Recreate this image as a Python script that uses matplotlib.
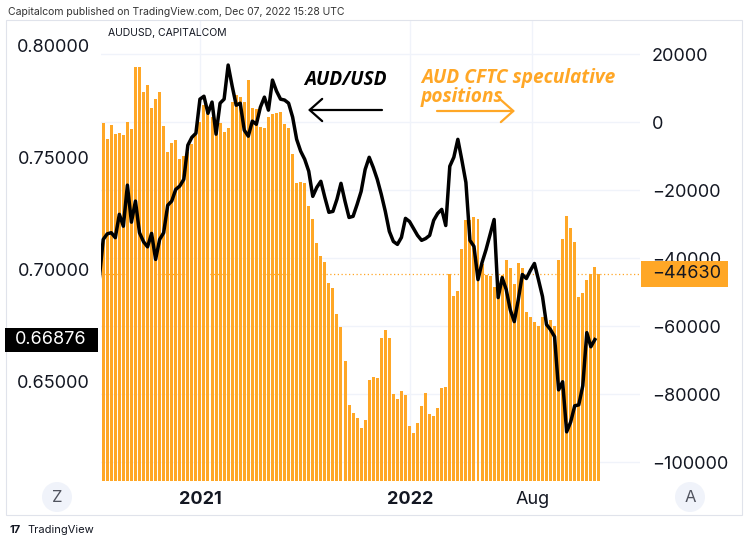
import matplotlib
matplotlib.use('Agg')
import matplotlib.pyplot as plt
import matplotlib.dates as mdates
from matplotlib.patches import Rectangle, Ellipse, FancyArrowPatch
import numpy as np
import pandas as pd

plt.rcParams['font.family'] = ['Inter', 'DejaVu Sans']

# ---------------- data ----------------
cftc_start = '2020-07-17'
cftc_positions = [
    -200, -5000, -1000, -3500, -3200, -3800, -100, -2100, 16200, 16300,
    8900, 10800, 4000, 6800, 8900, -1300, -8700, -6200, -5400, -10900,
    -10000, -8700, -6600, -3800, 100, 5000, 4100, 1600, 100, -400,
    -2900, -1700, 6000, 7900, 7400, 6000, 12400, 4000, 3800, -1400,
    -1700, 1600, 2300, 2600, 3000, -600, -1900, -9400, -17900, -17600,
    -17900, -24700, -28600, -35700, -39300, -41300, -47400, -48800, -56600, -60200,
    -70300, -83200, -85700, -87000, -90100, -87600, -75900, -75100, -75400, -63400,
    -61200, -63400, -80100, -81600, -79000, -80400, -89400, -91500, -88400, -83400,
    -79800, -85800, -86500, -84100, -78200, -77900, -44700, -51200, -49600, -37400,
    -28800, -28800, -27900, -28500, -41900, -45000, -45300, -48600, -47700, -45000,
    -40600, -43000, -47600, -41600, -43000, -55800, -57300, -58700, -59900, -57400,
    -59200, -58200, -60000, -40600, -34500, -27600, -31300, -35400, -51400, -50400,
    -46600, -44700, -42600, -44630,
]

audusd_start = '2020-07-10'
audusd_close = [
    0.6955, 0.7134, 0.7159, 0.7164, 0.7142, 0.7246, 0.7193, 0.7376, 0.7211, 0.7305,
    0.7164, 0.7124, 0.7101, 0.7161, 0.7045, 0.7134, 0.7164, 0.7286, 0.7305, 0.7357,
    0.7372, 0.7402, 0.7554, 0.7589, 0.7607, 0.7759, 0.7772, 0.7696, 0.7746, 0.7603,
    0.7741, 0.7759, 0.7911, 0.7817, 0.7732, 0.7741, 0.7621, 0.7594, 0.7661, 0.7647,
    0.7723, 0.7768, 0.7710, 0.7844, 0.7795, 0.7759, 0.7755, 0.7741, 0.7679, 0.7580,
    0.7527, 0.7491, 0.7438, 0.7326, 0.7366, 0.7393, 0.7321, 0.7255, 0.7259, 0.7313,
    0.7384, 0.7304, 0.7232, 0.7237, 0.7290, 0.7348, 0.7446, 0.7500, 0.7455, 0.7402,
    0.7335, 0.7259, 0.7170, 0.7125, 0.7112, 0.7143, 0.7228, 0.7214, 0.7183, 0.7152,
    0.7130, 0.7138, 0.7152, 0.7219, 0.7250, 0.7268, 0.7196, 0.7460, 0.7500, 0.7580,
    0.7487, 0.7388, 0.7130, 0.7103, 0.6955, 0.7031, 0.7089, 0.7156, 0.7223, 0.6875,
    0.6964, 0.6911, 0.6821, 0.6768, 0.6866, 0.6978, 0.6960, 0.6996, 0.7027, 0.6955,
    0.6880, 0.6755, 0.6732, 0.6701, 0.6464, 0.6500, 0.6277, 0.6321, 0.6393, 0.6397,
    0.6482, 0.6719, 0.6656, 0.6688,
]

left_ticks = [0.65, 0.70, 0.75, 0.80]
left_tick_labels = ['0.65000', '0.70000', '0.75000', '0.80000']
right_ticks = [-100000, -80000, -60000, -40000, -20000, 0, 20000]
right_tick_labels = ['\u2212100000', '\u221280000', '\u221260000', '\u221240000',
                     '\u221220000', '0', '20000']
time_ticks = ['2021-01-01', '2022-01-01', '2022-08-01']
time_tick_labels = ['2021', '2022', 'Aug']
time_tick_bold = [True, True, False]
last_cftc = -44630
last_cftc_label = '\u221244630'
last_audusd_label = '0.66876'

# ---------------- style ----------------
ORANGE = '#FFA726'
TXT = '#131722'
GRID = '#F0F3FA'
W, H = 750, 544


def fx(x):
    return x / W


def fy(y):
    return 1 - y / H


fig = plt.figure(figsize=(W / 100, H / 100), dpi=100)
fig.patch.set_facecolor('white')

ax = fig.add_axes([fx(101), fy(481), fx(640) - fx(101), fy(20) - fy(481)])
ax2 = ax.twinx()

# bars (right scale)
bar_dates = pd.date_range(cftc_start, periods=len(cftc_positions), freq='W-FRI')
ax.set_ylim(-105588, 30000)
base = ax.get_ylim()[0]
ax.bar(bar_dates, np.array(cftc_positions) - base, bottom=base, width=5.2,
       color=ORANGE, linewidth=0, zorder=2)
ax.axhline(last_cftc, color=ORANGE, lw=0.9, ls=(0, (1, 2)), zorder=3)

# line (left scale)
line_dates = pd.date_range(audusd_start, periods=len(audusd_close), freq='W-FRI')
ax2.plot(line_dates, audusd_close, color='black', lw=2.5, solid_joinstyle='round', zorder=5)
ax2.set_ylim(0.60580, 0.81116)

x0 = mdates.date2num(pd.Timestamp(cftc_start))
ax.set_xlim(x0 - 3.85, x0 + 932.4)

# ticks
ax.yaxis.tick_right()
ax.set_yticks(right_ticks)
ax.set_yticklabels(right_tick_labels)
ax.tick_params(axis='y', length=0, pad=8.6, labelsize=13, labelcolor=TXT)

ax2.yaxis.tick_left()
ax2.set_yticks(left_ticks)
ax2.set_yticklabels(left_tick_labels)
ax2.tick_params(axis='y', length=0, pad=8, labelsize=13, labelcolor=TXT)

ax.set_xticks([mdates.date2num(pd.Timestamp(t)) for t in time_ticks])
ax.set_xticklabels(time_tick_labels)
ax.tick_params(axis='x', length=0, pad=7, labelsize=13, labelcolor=TXT)
for lab, b in zip(ax.get_xticklabels(), time_tick_bold):
    lab.set_fontweight('bold' if b else 'normal')

ax.grid(True, color=GRID, lw=1)
ax.set_axisbelow(True)
for a in (ax, ax2):
    for s in a.spines.values():
        s.set_visible(False)
ax2.patch.set_visible(False)

# ---------------- decorations ----------------
fig.add_artist(Rectangle((fx(6), fy(515)), fx(742) - fx(6), fy(20) - fy(515),
                         transform=fig.transFigure, fill=False, ec='#E0E3EB', lw=0.8))

fig.text(fx(8), fy(12), 'Capitalcom published on TradingView.com, Dec 07, 2022 15:28 UTC',
         fontsize=7.5, color='#333333', va='center', ha='left')
fig.text(fx(108), fy(33), 'AUDUSD, CAPITALCOM', fontsize=7.5, color=TXT, va='center', ha='left')

# last value labels
fig.add_artist(Rectangle((fx(5), fy(352)), fx(98) - fx(5), fy(328) - fy(352),
                         transform=fig.transFigure, fc='black', ec='none', zorder=6))
fig.text(fx(51), fy(340), last_audusd_label, color='white', fontsize=13,
         ha='center', va='center', zorder=7)
fig.add_artist(Rectangle((fx(641), fy(287)), fx(728) - fx(641), fy(261) - fy(287),
                         transform=fig.transFigure, fc=ORANGE, ec='none', zorder=6))
fig.text(fx(652), fy(274), last_cftc_label, color=TXT, fontsize=13,
         ha='left', va='center', zorder=7)

# annotations
afont = dict(family=['Open Sans', 'DejaVu Sans'], fontweight='bold', fontstyle='italic', fontsize=13.8)
fig.text(fx(304), fy(80), 'AUD/USD', color='black', ha='left', va='center', **afont)
fig.text(fx(421), fy(78), 'AUD CFTC speculative', color=ORANGE, ha='left', va='center', **afont)
fig.text(fx(421), fy(97), 'positions', color=ORANGE, ha='left', va='center', **afont)
fig.add_artist(FancyArrowPatch((fx(382), fy(110)), (fx(308), fy(110)), transform=fig.transFigure,
                               arrowstyle='->,head_length=0.9,head_width=0.8', mutation_scale=10,
                               color='black', lw=1.6, shrinkA=0, shrinkB=0))
fig.add_artist(FancyArrowPatch((fx(437), fy(111)), (fx(515), fy(111)), transform=fig.transFigure,
                               arrowstyle='->,head_length=0.9,head_width=0.8', mutation_scale=10,
                               color=ORANGE, lw=1.6, shrinkA=0, shrinkB=0))

# Z / A buttons
for cx, letter in ((57, 'Z'), (690, 'A')):
    fig.add_artist(Ellipse((fx(cx), fy(497)), 30 / W, 30 / H, transform=fig.transFigure,
                           fc='#F0F3FA', ec='none'))
    fig.text(fx(cx), fy(497), letter, color='#50535E', fontsize=12, ha='center', va='center')

# footer logo
fig.text(fx(9), fy(530), '17', fontsize=8, fontweight='bold', color=TXT, ha='left', va='center')
fig.text(fx(27), fy(530), 'TradingView', fontsize=8, color=TXT, ha='left', va='center')

fig.savefig('out.png', dpi=100, facecolor='white')
